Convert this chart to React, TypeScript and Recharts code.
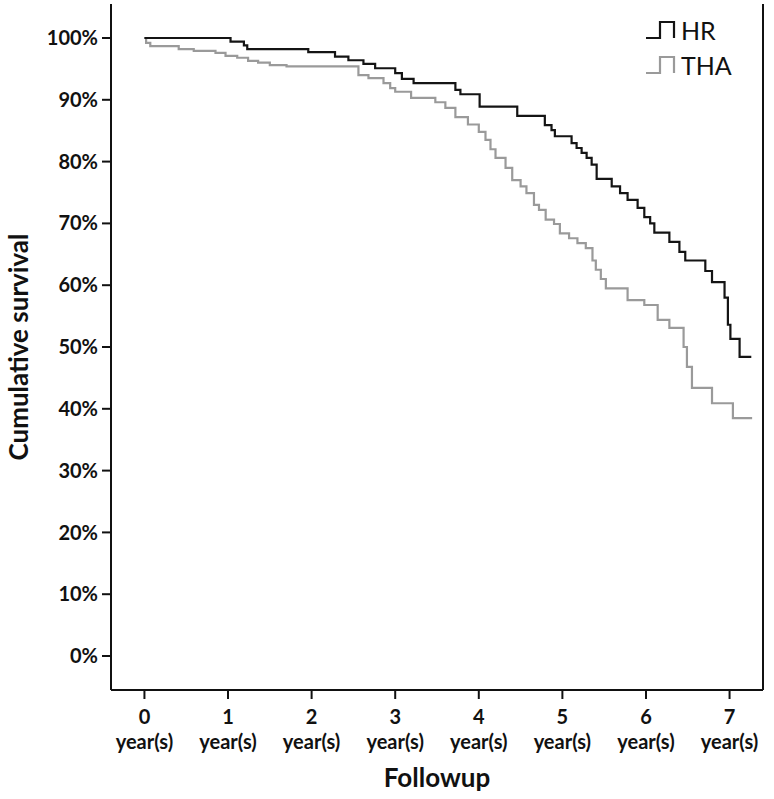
import React from 'react';
import { LineChart, Line, XAxis, YAxis } from 'recharts';

// Kaplan-Meier steps (years, % surviving)
const hrTime = [0, 1.03, 1.19, 1.23, 1.96, 2.28, 2.44, 2.62, 2.76, 3.0, 3.08, 3.22, 3.72, 3.78, 4.01, 4.46, 4.79, 4.87, 4.91, 5.11, 5.17, 5.23, 5.29, 5.35, 5.41, 5.59, 5.69, 5.78, 5.9, 5.98, 6.05, 6.1, 6.28, 6.4, 6.47, 6.71, 6.79, 6.94, 6.98, 7.01, 7.12, 7.26];
const hrSurv = [100, 99.4, 98.8, 98.2, 97.7, 97.0, 96.4, 95.8, 95.1, 94.3, 93.4, 92.7, 91.6, 90.9, 88.9, 87.4, 85.9, 85.1, 84.1, 83.0, 82.2, 81.4, 80.6, 79.5, 77.2, 76.0, 74.9, 73.8, 72.5, 71.0, 70.0, 68.5, 67.0, 65.4, 64.0, 62.3, 60.5, 58.0, 53.6, 51.3, 48.4, 48.4];

const thaTime = [0, 0.02, 0.07, 0.41, 0.59, 0.85, 0.97, 1.11, 1.24, 1.36, 1.5, 1.7, 2.56, 2.68, 2.86, 2.94, 3.0, 3.19, 3.48, 3.6, 3.72, 3.87, 4.0, 4.08, 4.14, 4.2, 4.32, 4.4, 4.5, 4.57, 4.66, 4.72, 4.8, 4.9, 4.97, 5.08, 5.18, 5.28, 5.36, 5.4, 5.46, 5.52, 5.78, 5.98, 6.14, 6.28, 6.45, 6.49, 6.55, 6.79, 7.04, 7.27];
const thaSurv = [100, 99.2, 98.7, 98.2, 97.9, 97.6, 97.1, 96.8, 96.3, 96.0, 95.6, 95.4, 94.0, 93.5, 92.7, 91.9, 91.3, 90.3, 89.6, 88.7, 87.2, 86.0, 84.8, 83.5, 82.0, 80.6, 79.0, 77.0, 76.0, 74.9, 73.0, 72.2, 70.6, 69.9, 68.4, 67.6, 66.8, 66.0, 64.0, 62.5, 61.0, 59.5, 57.6, 56.8, 54.4, 53.1, 50.0, 46.8, 43.4, 40.9, 38.5, 38.5];

const xTicks = [0, 1, 2, 3, 4, 5, 6, 7];
const yTicks = [0, 10, 20, 30, 40, 50, 60, 70, 80, 90, 100];

const series = [
  { name: 'HR', color: '#141414' },
  { name: 'THA', color: '#9a9a9a' },
];

const hrData = hrTime.map((t, i) => ({ t, s: hrSurv[i] }));
const thaData = thaTime.map((t, i) => ({ t, s: thaSurv[i] }));

const FONT = 'Lato, "Open Sans", sans-serif';

const YearTick = ({ x, y, payload }: any) => (
  <text x={x} y={y} textAnchor="middle" fontFamily={FONT} fontWeight="bold" fontSize={20} fill="#111">
    <tspan x={x} dy={23}>{payload.value}</tspan>
    <tspan x={x} dy={25}>year(s)</tspan>
  </text>
);

const YTitle = ({ viewBox }: any) => {
  const cy = viewBox.y + viewBox.height / 2;
  return (
    <text
      x={18}
      y={cy}
      transform={`rotate(-90 18 ${cy})`}
      textAnchor="middle"
      dominantBaseline="central"
      fontFamily={FONT}
      fontWeight="bold"
      fontSize={26}
      fill="#111"
    >
      Cumulative survival
    </text>
  );
};

const StepLegend = () => (
  <div style={{ position: 'absolute', left: 646, top: 12, fontFamily: FONT, fontSize: 25, color: '#111' }}>
    {series.map((s) => (
      <div key={s.name} style={{ display: 'flex', alignItems: 'center', height: 35 }}>
        <svg width={34} height={22} style={{ marginRight: 1 }}>
          <polyline points="0,19 14,19 14,3 28,3 28,19" fill="none" stroke={s.color} strokeWidth={2.2} />
        </svg>
        <span>{s.name}</span>
      </div>
    ))}
  </div>
);

export default function App() {
  return (
    <div style={{ position: 'absolute', left: 0, top: 0, width: 774, height: 799, background: '#fff' }}>
      <LineChart width={774} height={799} margin={{ top: 4, right: 10, bottom: 0, left: 0 }}>
        <XAxis
          xAxisId="main"
          dataKey="t"
          type="number"
          domain={[-0.4, 7.4]}
          ticks={xTicks}
          allowDataOverflow
          height={109}
          tickSize={9}
          tickMargin={2}
          axisLine={{ stroke: '#111', strokeWidth: 2 }}
          tickLine={{ stroke: '#111', strokeWidth: 2 }}
          tick={<YearTick />}
          label={{
            value: 'Followup',
            position: 'insideBottom',
            offset: 12,
            style: { fontFamily: FONT, fontWeight: 'bold', fontSize: 26, fill: '#111' },
          }}
        />
        <XAxis xAxisId="top" orientation="top" type="number" domain={[0, 1]} height={0} tick={false} tickLine={false} axisLine={{ stroke: '#111', strokeWidth: 2 }} />
        <YAxis
          yAxisId="main"
          type="number"
          domain={[-5.5, 105.5]}
          ticks={yTicks}
          allowDataOverflow
          width={111}
          tickSize={9}
          tickMargin={4}
          tickFormatter={(v) => `${v}%`}
          axisLine={{ stroke: '#111', strokeWidth: 2 }}
          tickLine={{ stroke: '#111', strokeWidth: 2 }}
          tick={{ fontFamily: FONT, fontWeight: 'bold', fontSize: 20, fill: '#111' }}
          label={{ content: <YTitle /> }}
        />
        <YAxis yAxisId="right" orientation="right" type="number" domain={[0, 1]} width={1} tick={false} tickLine={false} axisLine={{ stroke: '#111', strokeWidth: 2 }} />
        <Line
          xAxisId="main"
          yAxisId="main"
          data={thaData}
          dataKey="s"
          name="THA"
          type="stepAfter"
          stroke={series[1].color}
          strokeWidth={2.2}
          dot={false}
          isAnimationActive={false}
        />
        <Line
          xAxisId="main"
          yAxisId="main"
          data={hrData}
          dataKey="s"
          name="HR"
          type="stepAfter"
          stroke={series[0].color}
          strokeWidth={2.2}
          dot={false}
          isAnimationActive={false}
        />
      </LineChart>
      <StepLegend />
    </div>
  );
}
